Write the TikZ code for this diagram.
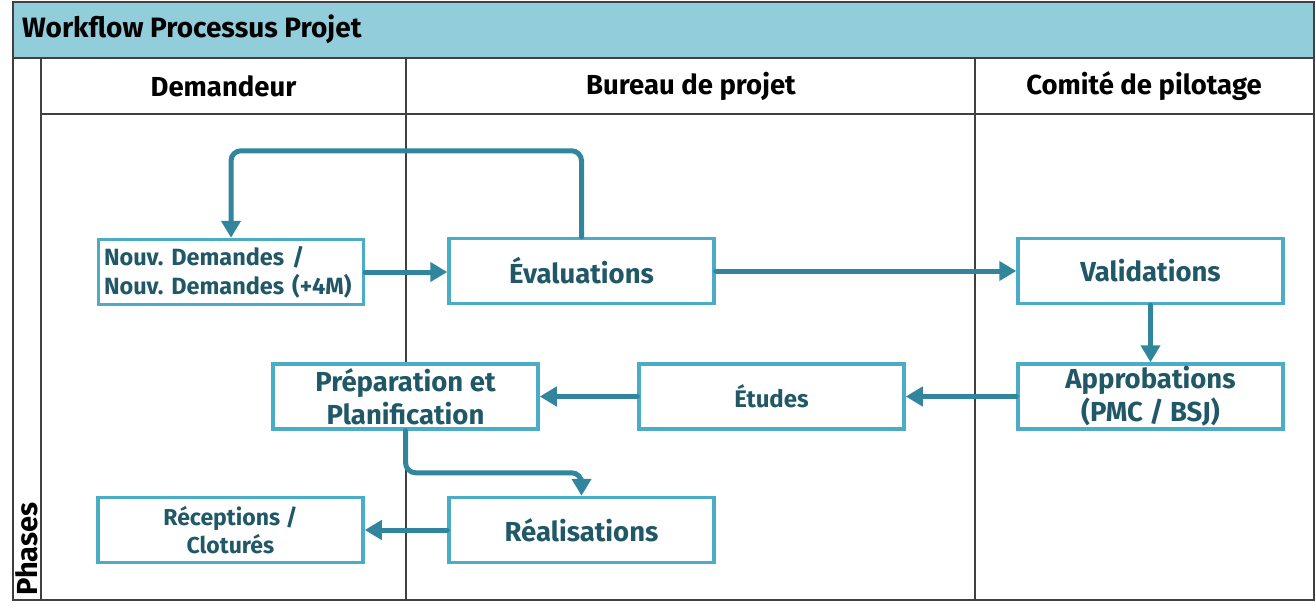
\documentclass[tikz,border=0pt]{standalone}
\usepackage{fontspec}
\setmainfont{Fira Sans}
\frenchspacing
\usetikzlibrary{arrows.meta}
\definecolor{bandeau}{HTML}{92CDDC}
\definecolor{cadre}{HTML}{4BACC6}
\definecolor{fleche}{HTML}{31859C}
\definecolor{texte}{HTML}{215868}
\definecolor{trait}{HTML}{404040}
\tikzset{
  grille/.style={draw=trait, line width=1.3pt},
  titre/.style={inner sep=0pt, font=\bfseries\fontsize{28}{32}\selectfont},
  entete/.style={inner sep=0pt, font=\bfseries\fontsize{27.5}{31}\selectfont},
  etape/.style={draw=cadre, line width=3.5pt, fill=white, text=texte, inner sep=0pt,
    minimum width=265pt, minimum height=65pt, align=center,
    font=\bfseries\fontsize{27.5}{33}\selectfont},
  lien/.style={draw=fleche, line width=5pt, line cap=round,
    -{Triangle[length=17pt,width=19pt]}}
}
\begin{document}
\begin{tikzpicture}[x=1pt,y=-1pt]
\useasboundingbox (0,0) rectangle (1316,611);
% cadre et couloirs
\fill[bandeau] (13,2) rectangle (1314,58);
\draw[grille] (13,2) rectangle (1314,600);
\draw[grille] (13,58) -- (1314,58);
\draw[grille] (41,58) -- (41,600);
\draw[grille] (41,114) -- (1314,114);
\draw[grille] (406,58) -- (406,600);
\draw[grille] (975,58) -- (975,600);
\node[titre, anchor=west] (titre) at (22,29) {Workflow Processus Projet};
\node[entete] (demandeur) at (223.5,86) {Demandeur};
\node[entete] (bureau) at (691,86) {Bureau de projet};
\node[entete] (comite) at (1144,86) {Comité de pilotage};
\node[entete, font=\bfseries\fontsize{29}{33}\selectfont, rotate=90, anchor=west] (phases) at (27,596) {Phases};
% etapes
\node[etape, text width=254pt, align=left, font=\bfseries\fontsize{23.5}{29}\selectfont] (nouv) at (231,272) {Nouv. Demandes /\\Nouv. Demandes (+4M)};
\node[etape] (eval) at (581.5,271) {Évaluations};
\node[etape] (valid) at (1150.5,271) {Validations};
\node[etape] (prep) at (405.5,396.5) {Préparation et\\Planification};
\node[etape, font=\bfseries\fontsize{24}{28}\selectfont] (etudes) at (771.5,396.5) {Études};
\node[etape] (approb) at (1150.5,396.5) {Approbations\\(PMC / BSJ)};
\node[etape, font=\bfseries\fontsize{23}{28}\selectfont] (recep) at (230.5,530) {Réceptions /\\Cloturés};
\node[etape] (realis) at (581.5,530) {Réalisations};
% liens
\draw[lien, rounded corners=10pt] (eval.north) -- ++(0,-86) -| (nouv.north);
\draw[lien] (nouv) -- (nouv -| eval.west);
\draw[lien] (eval) -- (valid);
\draw[lien] (valid) -- (approb);
\draw[lien] (approb) -- (etudes);
\draw[lien] (etudes) -- (prep);
\draw[lien, rounded corners=10pt] (prep.south) -- ++(0,42) -| (realis.north);
\draw[lien] (realis) -- (recep);
\end{tikzpicture}
\end{document}
